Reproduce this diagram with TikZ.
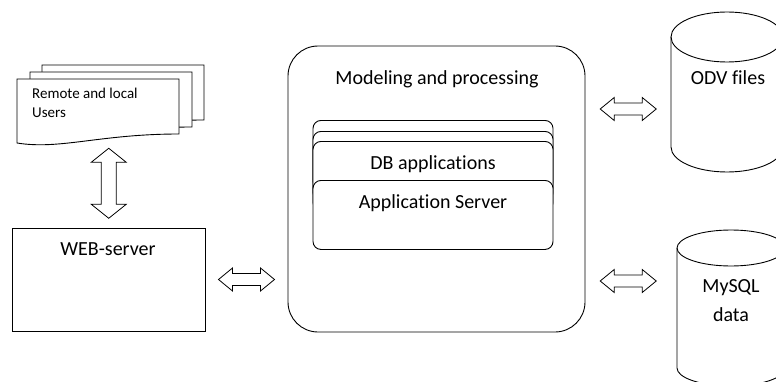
\documentclass[tikz,border=0pt]{standalone}
\usepackage{fontspec}
\setmainfont{Carlito}[Ligatures=NoCommon]
\usetikzlibrary{calc}

\tikzset{
  pics/fatarrow/.style args={#1/#2/#3}{code={
    \draw[fill=white, line width=0.8pt]
      ({-#1/2},0) -- ({-#1/2+14},{#2/2}) -- ({-#1/2+14},{#3/2}) -- ({#1/2-14},{#3/2})
      -- ({#1/2-14},{#2/2}) -- ({#1/2},0) -- ({#1/2-14},{-#2/2}) -- ({#1/2-14},{-#3/2})
      -- ({-#1/2+14},{-#3/2}) -- ({-#1/2+14},{-#2/2}) -- cycle;
  }},
  box/.style={draw, fill=white, line width=0.9pt, inner sep=0pt},
  appbox/.style={box, rounded corners=8pt, minimum width=240pt, minimum height=69pt, anchor=north},
  txt/.style={font=\fontsize{20}{24}\selectfont, inner sep=0pt},
  smalltxt/.style={font=\fontsize{15}{18}\selectfont, inner sep=0pt},
}

\begin{document}
\begin{tikzpicture}[x=1pt, y=1pt]
  \path[use as bounding box, clip] (0,0) rectangle (776,381);

  % stack of user documents
  \foreach \dx/\dy in {25/14, 13/7, 0/0}
    \draw[box] (17+\dx,302+\dy) -- (179+\dx,302+\dy) -- (179+\dx,247+\dy)
      .. controls (100+\dx,247+\dy) and (60+\dx,231+\dy) .. (17+\dx,238+\dy) -- cycle;
  \node[smalltxt, anchor=base west] (users) at (32,283) {Remote and local};
  \node[smalltxt, anchor=base west] (users2) at (32,263) {Users};
  \coordinate (docbot) at (109,242);

  % web server
  \node[box, minimum width=193pt, minimum height=103pt] (web) at (108.5,101.5) {};
  \node[txt, anchor=base] (webtxt) at (108,126) {WEB-server};
  \pic[rotate=90] at ($(docbot)!0.5!(web.north)$) {fatarrow=70/35/15};

  % modeling block
  \node[box, rounded corners=30pt, minimum width=297pt, minimum height=286pt] (model) at (436.5,192) {};
  \node[txt, anchor=base] (modeltxt) at (437,296) {Modeling and processing};
  \node[appbox] (appback1) at (433,261) {};
  \node[appbox] (appback2) at (433,250) {};
  \node[appbox] (dbapp) at (433,240) {};
  \node[txt, anchor=base] (dbtxt) at (433,212) {DB applications};
  \node[appbox] (appserver) at (433,201) {};
  \node[txt, anchor=base] (apptxt) at (433,173) {Application Server};
  \pic at ($(web.east)!0.5!(web.east -| model.west)$) {fatarrow=56/23/12};

  % ODV files
  \coordinate (odv) at (727,344);
  \coordinate (odvleft) at (671,272);
  \draw[line width=0.9pt, fill=white] (671,344) -- (671,234) arc (180:360:56 and 25) -- (783,344);
  \draw[line width=0.9pt] (odv) ellipse (56 and 25);
  \node[txt, anchor=base] (odvtxt) at (728,296) {ODV files};
  \pic at ($(model.east |- odvleft)!0.5!(odvleft)$) {fatarrow=56/23/12};

  % MySQL data
  \coordinate (sql) at (731,133);
  \coordinate (sqlleft) at (671,100);
  \draw[line width=0.9pt, fill=white] (677,133) -- (677,13) arc (180:360:54 and 18) -- (785,133);
  \draw[line width=0.9pt] (sql) ellipse (54 and 18);
  \node[txt, anchor=base] (sqltxt) at (731,89) {MySQL};
  \node[txt, anchor=base] (datatxt) at (731,60) {data};
  \pic at ($(model.east |- sqlleft)!0.5!(sqlleft)$) {fatarrow=56/23/12};
\end{tikzpicture}
\end{document}
